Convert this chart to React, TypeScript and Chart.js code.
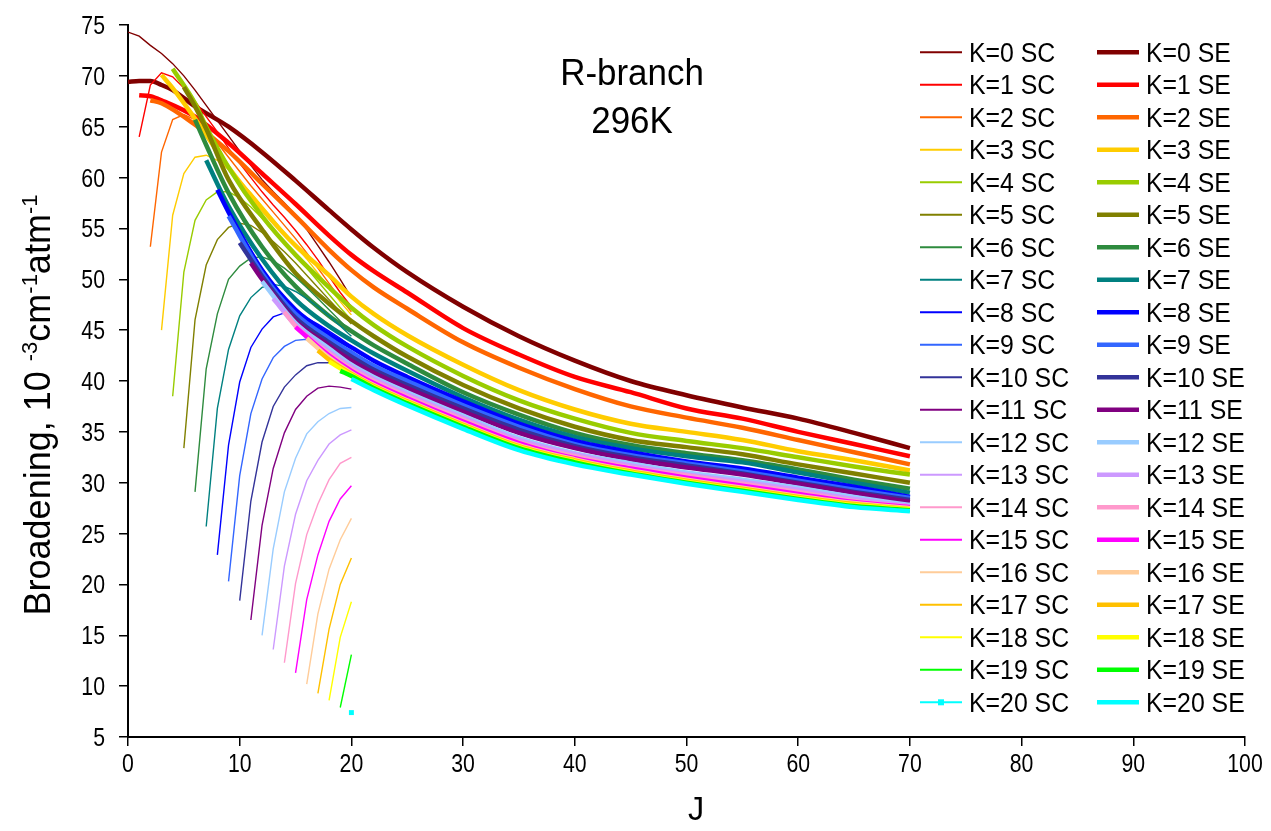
import React, { useEffect, useRef } from 'react';
import { Chart, registerables } from 'chart.js';

Chart.register(...registerables);

const K_LIST = [0, 1, 2, 3, 4, 5, 6, 7, 8, 9, 10, 11, 12, 13, 14, 15, 16, 17, 18, 19, 20];

const COLORS = [
  '#800000', '#FF0000', '#FF6600', '#FFCC00', '#99CC00', '#808000', '#2E8B3E',
  '#008080', '#0000FF', '#3366FF', '#333399', '#800080', '#99CCFF', '#CC99FF',
  '#FF99CC', '#FF00FF', '#FFCC99', '#FFC000', '#FFFF00', '#00FF00', '#00FFFF',
];

const X_TICKS = [0, 10, 20, 30, 40, 50, 60, 70, 80, 90, 100];
const Y_TICKS = [5, 10, 15, 20, 25, 30, 35, 40, 45, 50, 55, 60, 65, 70, 75];

// SC series: values for J = K, K+1, ..., 20
const SC_VALUES = [
  [74.3, 73.9, 73.0, 72.2, 71.2, 70.0, 68.6, 67.1, 65.6, 64.1, 62.6, 61.2, 59.8, 58.6, 57.5, 56.3, 54.9, 53.3, 51.7, 50.0, 48.2],
  [64.0, 69.1, 70.3, 69.9, 68.8, 67.5, 66.0, 64.5, 62.9, 61.4, 60.0, 58.6, 57.3, 56.1, 54.8, 53.4, 51.9, 50.3, 48.7, 47.3],
  [53.2, 62.5, 65.7, 66.2, 65.7, 64.7, 63.4, 62.0, 60.6, 59.2, 57.9, 56.6, 55.3, 54.0, 52.6, 51.1, 49.6, 48.1, 46.8],
  [45.0, 56.3, 60.4, 62.0, 62.2, 61.7, 60.8, 59.7, 58.5, 57.2, 55.9, 54.6, 53.3, 52.0, 50.6, 49.2, 47.8, 46.5],
  [38.5, 50.7, 55.8, 57.8, 58.6, 58.6, 58.0, 57.1, 56.0, 54.8, 53.6, 52.4, 51.1, 49.8, 48.5, 47.2, 46.0],
  [33.4, 46.0, 51.4, 53.9, 55.1, 55.5, 55.3, 54.6, 53.7, 52.7, 51.6, 50.4, 49.2, 48.0, 46.8, 45.6],
  [29.1, 41.2, 46.6, 50.0, 51.3, 52.1, 52.2, 51.8, 51.1, 50.2, 49.2, 48.1, 47.0, 45.9, 44.8],
  [25.7, 37.3, 43.1, 46.4, 48.2, 49.2, 49.5, 49.3, 48.8, 48.1, 47.3, 46.4, 45.4, 44.4],
  [22.9, 33.7, 39.9, 43.3, 45.1, 46.3, 46.7, 46.6, 46.2, 45.6, 44.9, 44.2, 43.4],
  [20.3, 30.7, 36.8, 40.2, 42.3, 43.4, 44.0, 44.1, 43.9, 43.5, 43.0, 42.4],
  [18.4, 28.2, 34.0, 37.5, 39.4, 40.6, 41.5, 41.8, 41.8, 41.6, 41.3],
  [16.5, 25.8, 31.4, 34.9, 37.2, 38.5, 39.3, 39.5, 39.4, 39.2],
  [15.0, 23.5, 29.1, 32.4, 34.8, 36.0, 36.8, 37.3, 37.4],
  [13.6, 21.8, 26.9, 30.2, 32.2, 33.8, 34.7, 35.2],
  [12.3, 20.1, 24.9, 27.9, 30.3, 31.9, 32.5],
  [11.3, 18.5, 22.9, 26.2, 28.4, 29.7],
  [10.2, 17.1, 21.5, 24.4, 26.5],
  [9.3, 15.6, 20.0, 22.6],
  [8.6, 14.8, 18.3],
  [7.9, 13.1],
  [7.4],
];

// SE series, first part (J below 20)
const SE_HEAD_J = [
  [0, 1, 2, 3, 4, 6, 9, 12, 15, 18],
  [1, 2, 3, 6, 9, 12, 15, 18],
  [2, 3, 6, 9, 12, 15, 18],
  [3, 4, 6, 9, 12, 15, 18],
  [4, 6, 7, 9, 12, 15, 18],
  [5, 6, 7, 9, 12, 15, 18],
  [6, 7, 9, 12, 15, 18],
  [7, 9, 12, 15, 18],
  [8, 9, 12, 15, 18],
  [9, 12, 15, 18],
  [10, 12, 15, 18],
  [11, 12, 15, 18],
  [12, 15, 18],
  [13, 15, 18],
  [14, 15, 18],
  [15, 18],
  [16, 18],
  [17, 18],
  [18],
  [19],
  [],
];
const SE_HEAD_Y = [
  [69.4, 69.5, 69.5, 69.1, 68.6, 67.0, 65.0, 62.5, 59.7, 56.8],
  [68.1, 68.0, 67.6, 66.0, 63.4, 60.4, 57.4, 54.3],
  [67.6, 67.3, 65.2, 62.6, 59.4, 56.2, 52.9],
  [70.1, 68.8, 65.8, 61.0, 56.9, 53.3, 50.4],
  [70.7, 67.3, 65.0, 61.0, 56.2, 52.4, 49.2],
  [68.9, 67.0, 64.8, 59.8, 54.9, 50.6, 47.6],
  [65.7, 63.2, 58.5, 53.2, 49.3, 46.4],
  [61.7, 57.2, 52.0, 48.0, 45.4],
  [58.8, 56.6, 50.9, 47.0, 44.6],
  [56.2, 50.6, 46.6, 44.2],
  [53.6, 50.3, 46.2, 43.8],
  [51.6, 50.0, 45.9, 43.5],
  [49.8, 45.7, 43.2],
  [48.1, 45.5, 42.9],
  [46.8, 45.4, 42.7],
  [45.3, 42.5],
  [44.2, 42.3],
  [43.0, 42.1],
  [41.9],
  [41.0],
  [],
];

// SE series, second part (J from 20 to 70)
const SE_TAIL_J = [20, 22, 25, 30, 35, 40, 45, 50, 55, 60, 65, 70];
const SE_TAIL_Y = [
  [54.9, 53.1, 50.7, 47.3, 44.4, 42.0, 40.0, 38.6, 37.4, 36.3, 34.9, 33.4],
  [52.4, 50.8, 48.7, 45.2, 42.6, 40.4, 38.9, 37.3, 36.3, 35.0, 33.8, 32.6],
  [50.9, 49.2, 47.1, 43.8, 41.3, 39.2, 37.5, 36.4, 35.4, 34.2, 33.0, 31.8],
  [48.3, 46.6, 44.5, 41.6, 39.1, 37.2, 35.8, 35.0, 34.2, 33.1, 32.2, 31.2],
  [47.2, 45.5, 43.4, 40.5, 38.1, 36.3, 34.9, 34.1, 33.4, 32.5, 31.6, 30.8],
  [45.9, 44.4, 42.4, 39.6, 37.3, 35.5, 34.2, 33.5, 32.8, 31.8, 30.9, 30.0],
  [44.9, 43.5, 41.7, 38.9, 36.7, 34.9, 33.7, 32.9, 32.2, 31.3, 30.3, 29.4],
  [44.0, 42.7, 41.0, 38.4, 36.2, 34.5, 33.4, 32.6, 32.0, 31.0, 30.0, 29.0],
  [43.3, 42.0, 40.4, 38.0, 35.8, 34.1, 33.0, 32.1, 31.4, 30.5, 29.6, 28.6],
  [42.8, 41.5, 40.0, 37.6, 35.5, 33.8, 32.7, 31.9, 31.1, 30.2, 29.3, 28.5],
  [42.4, 41.1, 39.6, 37.3, 35.2, 33.6, 32.5, 31.7, 30.9, 30.0, 29.1, 28.3],
  [42.0, 40.8, 39.3, 37.0, 34.9, 33.4, 32.3, 31.5, 30.8, 29.9, 29.0, 28.1],
  [41.6, 40.4, 38.9, 36.6, 34.4, 32.9, 31.9, 31.0, 30.3, 29.5, 28.6, 27.8],
  [41.4, 40.2, 38.7, 36.4, 34.2, 32.8, 31.7, 30.8, 30.1, 29.3, 28.4, 27.7],
  [41.2, 40.0, 38.5, 36.2, 34.0, 32.6, 31.5, 30.7, 29.9, 29.1, 28.2, 27.6],
  [41.0, 39.8, 38.3, 36.0, 33.9, 32.4, 31.4, 30.5, 29.7, 28.9, 28.1, 27.6],
  [40.8, 39.6, 38.1, 35.8, 33.7, 32.3, 31.2, 30.3, 29.5, 28.7, 28.0, 27.5],
  [40.7, 39.5, 38.0, 35.7, 33.6, 32.2, 31.1, 30.2, 29.4, 28.6, 27.9, 27.4],
  [40.6, 39.4, 37.9, 35.6, 33.5, 32.1, 31.0, 30.1, 29.3, 28.5, 27.8, 27.4],
  [40.5, 39.3, 37.8, 35.5, 33.4, 32.0, 30.9, 30.0, 29.2, 28.4, 27.7, 27.3],
  [40.2, 39.1, 37.6, 35.3, 33.2, 31.8, 30.8, 29.9, 29.1, 28.3, 27.6, 27.2],
];

const TITLE_LINES = ['R-branch', '296K'];
const X_TITLE = 'J';
const Y_TITLE_PARTS = [
  { t: 'Broadening, 10 ', sup: false },
  { t: '-3', sup: true },
  { t: 'cm', sup: false },
  { t: '-1', sup: true },
  { t: 'atm', sup: false },
  { t: '-1', sup: true },
];

const FONT = '"Liberation Sans", Arial, sans-serif';

function drawText(ctx: CanvasRenderingContext2D, txt: string, x: number, y: number, size: number, align: CanvasTextAlign, sx: number) {
  ctx.save();
  ctx.translate(x, y);
  ctx.scale(sx, 1);
  ctx.font = `${size}px ${FONT}`;
  ctx.textAlign = align;
  ctx.textBaseline = 'alphabetic';
  ctx.fillStyle = '#000';
  ctx.fillText(txt, 0, 0);
  ctx.restore();
}

const decorPlugin = {
  id: 'decor',
  afterDraw(chart: any) {
    const ctx: CanvasRenderingContext2D = chart.ctx;
    const xs = chart.scales.x;
    const ys = chart.scales.y;
    const tickSize = 25;
    for (const v of Y_TICKS) {
      drawText(ctx, String(v), 105, ys.getPixelForValue(v) + 0.358 * tickSize, tickSize, 'right', 0.85);
    }
    for (const v of X_TICKS) {
      drawText(ctx, String(v), xs.getPixelForValue(v), 772, tickSize, 'center', 0.85);
    }
    // in-plot title
    drawText(ctx, TITLE_LINES[0], 632, 85, 36, 'center', 0.97);
    drawText(ctx, TITLE_LINES[1], 632, 133, 36, 'center', 0.97);
    // x title
    drawText(ctx, X_TITLE, 696, 820, 34, 'center', 0.95);
    // y title (rotated, with superscripts)
    ctx.save();
    const big = 36;
    const small = 22;
    let total = 0;
    const widths: number[] = [];
    for (const p of Y_TITLE_PARTS) {
      ctx.font = `${p.sup ? small : big}px ${FONT}`;
      const w = ctx.measureText(p.t).width;
      widths.push(w);
      total += w;
    }
    ctx.translate(50, 405);
    ctx.rotate(-Math.PI / 2);
    ctx.fillStyle = '#000';
    ctx.textBaseline = 'alphabetic';
    ctx.textAlign = 'left';
    let cx = -total / 2;
    Y_TITLE_PARTS.forEach((p, i) => {
      ctx.font = `${p.sup ? small : big}px ${FONT}`;
      ctx.fillText(p.t, cx, p.sup ? -13 : 0);
      cx += widths[i];
    });
    ctx.restore();

    // legend (two columns)
    const rowH = 32.5;
    K_LIST.forEach((k, idx) => {
      const ly = 52.3 + rowH * idx;
      const col = COLORS[idx];
      ctx.save();
      ctx.strokeStyle = col;
      ctx.lineWidth = 2;
      ctx.beginPath();
      ctx.moveTo(920, ly);
      ctx.lineTo(962, ly);
      ctx.stroke();
      if (k === 20) {
        ctx.fillStyle = col;
        ctx.fillRect(938, ly - 3, 6, 6);
      }
      ctx.lineWidth = 4.5;
      ctx.beginPath();
      ctx.moveTo(1097, ly);
      ctx.lineTo(1139, ly);
      ctx.stroke();
      ctx.restore();
      drawText(ctx, `K=${k} SC`, 969, ly + 9.5, 27, 'left', 0.92);
      drawText(ctx, `K=${k} SE`, 1146, ly + 9.5, 27, 'left', 0.92);
    });
  },
};

export default function App() {
  const canvasRef = useRef<HTMLCanvasElement | null>(null);

  useEffect(() => {
    const canvas = canvasRef.current;
    if (!canvas) return;
    const datasets: any[] = [];
    K_LIST.forEach((k, idx) => {
      const col = COLORS[idx];
      datasets.push({
        label: `K=${k} SC`,
        data: SC_VALUES[idx].map((v, i) => ({ x: k + i, y: v })),
        borderColor: col,
        backgroundColor: col,
        borderWidth: 1.4,
        pointRadius: k === 20 ? 3.5 : 0,
        pointStyle: 'rect',
        pointBorderWidth: 0,
        tension: 0,
        fill: false,
      });
      const seData = [
        ...SE_HEAD_J[idx].map((j, i) => ({ x: j, y: SE_HEAD_Y[idx][i] })),
        ...SE_TAIL_J.map((j, i) => ({ x: j, y: SE_TAIL_Y[idx][i] })),
      ];
      datasets.push({
        label: `K=${k} SE`,
        data: seData,
        borderColor: col,
        backgroundColor: col,
        borderWidth: 4.5,
        pointRadius: 0,
        cubicInterpolationMode: 'monotone',
        borderJoinStyle: 'round',
        fill: false,
      });
    });
    datasets.forEach((d, i) => {
      d.order = datasets.length - 1 - i;
    });

    const chart = new Chart(canvas, {
      type: 'line',
      data: { datasets },
      options: {
        animation: false,
        responsive: false,
        devicePixelRatio: 1,
        layout: { padding: { left: 0, top: 25, right: 26, bottom: 0 } },
        plugins: {
          legend: { display: false },
          tooltip: { enabled: false },
          title: { display: false },
        },
        scales: {
          x: {
            type: 'linear',
            min: 0,
            max: 100,
            ticks: { display: false, stepSize: 10 },
            grid: { display: true, drawOnChartArea: false, drawTicks: true, tickLength: 9, color: '#000', lineWidth: 1.5 },
            border: { display: true, color: '#000', width: 2 },
            afterFit: (s: any) => { s.height = 94; },
          },
          y: {
            type: 'linear',
            min: 5,
            max: 75,
            ticks: { display: false, stepSize: 5 },
            grid: { display: true, drawOnChartArea: false, drawTicks: true, tickLength: 9, color: '#000', lineWidth: 1.5 },
            border: { display: true, color: '#000', width: 2 },
            afterFit: (s: any) => { s.width = 128; },
          },
        },
      },
      plugins: [decorPlugin],
    });
    return () => chart.destroy();
  }, []);

  return (
    <div style={{ position: 'absolute', left: 0, top: 0, width: 1271, height: 831, background: '#fff' }}>
      <canvas ref={canvasRef} width={1271} height={831} style={{ display: 'block' }} />
    </div>
  );
}
